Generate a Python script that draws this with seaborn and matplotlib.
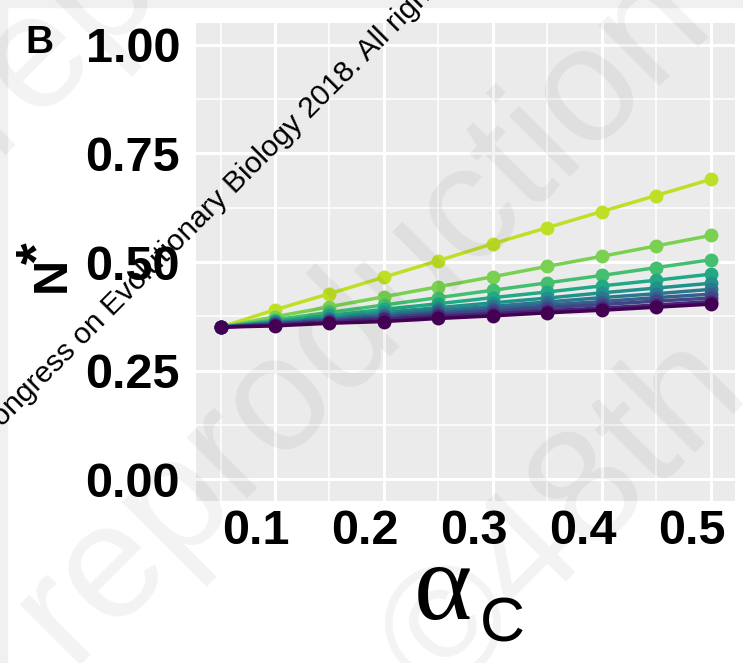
import matplotlib
matplotlib.use("Agg")
import matplotlib.pyplot as plt
import matplotlib.transforms as mtransforms
import seaborn as sns
import pandas as pd
from matplotlib.ticker import MultipleLocator
from matplotlib.patches import Rectangle

# alpha_C values on the x axis
alpha_c = [0.05, 0.10, 0.15, 0.20, 0.25, 0.30, 0.35, 0.40, 0.45, 0.50]

# equilibrium N* for each curve (top curve first)
n_s1 = [0.350, 0.390, 0.427, 0.465, 0.503, 0.542, 0.579, 0.616, 0.653, 0.690]
n_s2 = [0.350, 0.374, 0.397, 0.420, 0.443, 0.466, 0.490, 0.513, 0.537, 0.561]
n_s3 = [0.350, 0.367, 0.384, 0.401, 0.418, 0.435, 0.452, 0.469, 0.487, 0.505]
n_s4 = [0.350, 0.364, 0.377, 0.391, 0.404, 0.418, 0.431, 0.445, 0.458, 0.472]
n_s5 = [0.350, 0.361, 0.372, 0.384, 0.395, 0.406, 0.417, 0.429, 0.440, 0.451]
n_s6 = [0.350, 0.360, 0.369, 0.379, 0.389, 0.398, 0.408, 0.418, 0.427, 0.437]
n_s7 = [0.350, 0.358, 0.367, 0.375, 0.384, 0.392, 0.401, 0.409, 0.418, 0.426]
n_s8 = [0.350, 0.357, 0.365, 0.372, 0.380, 0.387, 0.395, 0.402, 0.410, 0.417]
n_s9 = [0.350, 0.355, 0.362, 0.368, 0.375, 0.381, 0.388, 0.394, 0.401, 0.409]
n_s10 = [0.350, 0.353, 0.359, 0.363, 0.370, 0.376, 0.383, 0.389, 0.396, 0.403]

series = [n_s1, n_s2, n_s3, n_s4, n_s5, n_s6, n_s7, n_s8, n_s9, n_s10]
series_names = ["s1", "s2", "s3", "s4", "s5", "s6", "s7", "s8", "s9", "s10"]
colors = ["#bddf26", "#7ad151", "#44bf70", "#22a884", "#21918c",
          "#2a788e", "#355f8d", "#414487", "#482475", "#440154"]

y_ticks = [0.00, 0.25, 0.50, 0.75, 1.00]
y_labels = ["0.00", "0.25", "0.50", "0.75", "1.00"]
x_ticks = [0.1, 0.2, 0.3, 0.4, 0.5]
x_labels = ["0.1", "0.2", "0.3", "0.4", "0.5"]

rows = []
for name, vals in zip(series_names, series):
    for a, n in zip(alpha_c, vals):
        rows.append({"alpha_c": a, "N": n, "series": name})
df = pd.DataFrame(rows)

sns.set_style("darkgrid", {"axes.facecolor": "#ebebeb", "grid.color": "white"})
plt.rcParams["font.family"] = ["Liberation Sans", "DejaVu Sans"]
plt.rcParams["text.color"] = "black"

fig = plt.figure(figsize=(7.43, 6.63), dpi=100)
fig.patch.set_facecolor("white")
ax = fig.add_axes([196 / 743, 1 - 501 / 663, (735 - 196) / 743, (501 - 23) / 663])

sns.lineplot(data=df, x="alpha_c", y="N", hue="series", hue_order=series_names,
             palette=colors, marker="o", markersize=10, markeredgewidth=0,
             linewidth=2.5, legend=False, ax=ax)

ax.set_xlim(0.0275, 0.5225)
ax.set_ylim(-0.05, 1.05)
ax.set_xticks(x_ticks)
ax.set_xticklabels(x_labels)
ax.set_yticks(y_ticks)
ax.set_yticklabels(y_labels)
ax.xaxis.set_minor_locator(MultipleLocator(0.05))
ax.yaxis.set_minor_locator(MultipleLocator(0.125))
ax.grid(which="major", color="white", linewidth=2.2)
ax.grid(which="minor", color="white", linewidth=1.1)
ax.tick_params(which="major", length=5, width=1.5, color="#333333",
               labelsize=35, labelcolor="black")
ax.tick_params(axis="y", pad=6.5)
ax.tick_params(axis="x", pad=1)
ax.tick_params(which="minor", length=0)
shift = mtransforms.ScaledTranslation(-19 / 100, 0, fig.dpi_scale_trans)
for lab in ax.get_xticklabels():
    lab.set_fontweight("bold")
    lab.set_transform(lab.get_transform() + shift)
for lab in ax.get_yticklabels():
    lab.set_fontweight("bold")
for sp in ax.spines.values():
    sp.set_visible(False)
ax.set_xlabel("")
ax.set_ylabel("")

# axis titles
fig.text(414 / 743, 1 - 619 / 663, "\u03b1", family=["Liberation Serif", "DejaVu Serif"],
         fontsize=80, ha="left", va="baseline")
fig.text(480 / 743, 1 - 641 / 663, "C", fontsize=45, ha="left", va="baseline")
fig.text(52 / 743, 1 - 274 / 663, "N", fontsize=35, fontweight="bold",
         rotation=90, ha="center", va="center")
fig.text(40 / 743, 1 - 253 / 663, "*", fontsize=40, fontweight="bold",
         rotation=90, ha="center", va="center")
fig.text(25 / 743, 1 - 53 / 663, "B", fontsize=28, fontweight="bold",
         ha="left", va="baseline")

# frame of the page
fig.patches.append(Rectangle((0, 1 - 7 / 663), 1, 7 / 663, transform=fig.transFigure,
                             color="#f0f0f0", zorder=0))
fig.patches.append(Rectangle((0, 0), 7 / 743, 1, transform=fig.transFigure,
                             color="#f0f0f0", zorder=0))

# watermarks
wm = dict(fontsize=118, color="black", alpha=0.05, rotation=45,
          rotation_mode="anchor", ha="left", va="baseline")
fig.text(-5 / 743, 1 - 155 / 663, "reproduction", **wm)
fig.text(70 / 743, 1 - 665 / 663, "reproduction", **wm)
fig.text(440 / 743, 1 - 705 / 663, "\u00a948th", **wm)
fig.text(-13 / 743, 1 - 443 / 663,
         "Congress on Evolutionary Biology 2018. All rights reserved",
         fontsize=21.5, color="black", rotation=45, rotation_mode="anchor",
         ha="left", va="baseline")

fig.savefig("out.png", dpi=100)
